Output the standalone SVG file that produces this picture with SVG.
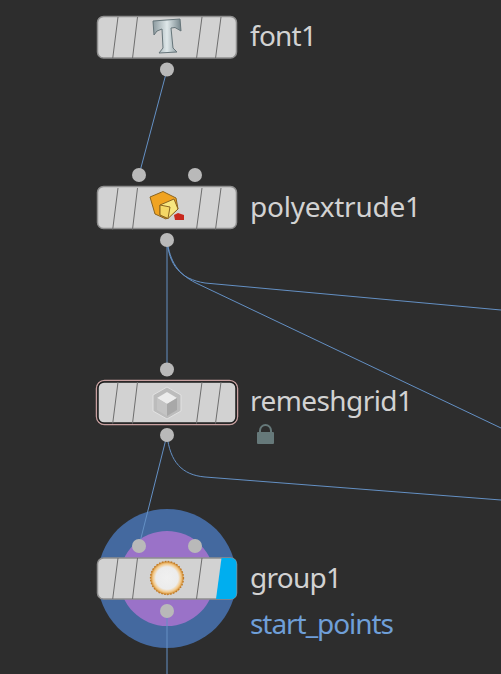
<svg xmlns="http://www.w3.org/2000/svg" width="501" height="674" viewBox="0 0 501 674">
<defs>
<style>
.body{fill:#d2d2d2;stroke:#8e8e8e;stroke-width:1.5}
.st{stroke:#6e6e6e;stroke-width:1;fill:none}
.dot{fill:#b9b9b9}
.lb{font-family:"Noto Sans","Open Sans",sans-serif;font-size:28px;fill:#d2d2d2}
.c{fill:none;stroke:#6490c4;stroke-width:1}
</style>
<g id="stripes">
<path class="st" d="M112.700 0.500L118 -41M132.500 0.500L137.500 -41M196.500 0.500L202 -41M215.500 0.500L221 -41"/>
</g>
<linearGradient id="tg" x1="0" x2="1" y1="0" y2="0"><stop offset="0" stop-color="#8c9a9f"/><stop offset=".5" stop-color="#dfe8ea"/><stop offset="1" stop-color="#74848a"/></linearGradient>
<radialGradient id="rg"><stop offset="0" stop-color="#f0f0f0"/><stop offset=".68" stop-color="#ececec"/><stop offset=".85" stop-color="#f3c98a"/><stop offset="1" stop-color="#d08a2c"/></radialGradient>
</defs>
<rect width="501" height="674" fill="#2d2d2d"/>
<g id="group1-halo">
<circle cx="167" cy="578.500" r="69.500" fill="#44699f"/>
<circle cx="167" cy="578.500" r="47.500" fill="#9a72c8"/>
</g>
<g id="connectors">
<path class="c" d="M167 70L139 175"/>
<path class="c" d="M167 240V370"/>
<path class="c" d="M167 240C169 265 180 279 205 283L501 310"/>
<path class="c" d="M167 240C170 262 178 274 196 283L501 428"/>
<path class="c" d="M167 435L139 546"/>
<path class="c" d="M167 435C170 462 182 475 205 477L501 500"/>
<path class="c" d="M167 611V674"/>
</g>
<g id="font1">
<rect class="body" x="97.500" y="16.500" width="139" height="41.500" rx="6"/>
<use href="#stripes" y="58"/>
<path d="M153 21L180 19L181 31L175 27.500L171 28L173 48L177 52L159 53L163 48L162 29L157 31L154 35Z" fill="url(#tg)" stroke="#66757a" stroke-width="1"/>
<circle class="dot" cx="167" cy="69.500" r="7"/>
<text class="lb" x="250" y="46" textLength="67">font1</text>
</g>
<g id="polyextrude1">
<rect class="body" x="97.500" y="186.500" width="139" height="42" rx="6"/>
<use href="#stripes" y="229"/>
<path d="M150 197L163 191.500L176 198L178 209L166 219L155 214Z" fill="#f0a321" stroke="#8a6420" stroke-width="1"/>
<path d="M160 205L174 199L178 209L168 218.500L160 215Z" fill="#f7e680" stroke="#8a6420" stroke-width="1"/>
<path d="M160 205V215L168 218.500L170 207Z" fill="#f4d766" stroke="#8a6420" stroke-width="1"/>
<path d="M174 215L178 213L184 215V220H175Z" fill="#c8281e"/>
<circle class="dot" cx="139" cy="175" r="7"/>
<circle class="dot" cx="195" cy="175" r="7"/>
<circle class="dot" cx="167" cy="240" r="7"/>
<text class="lb" x="250" y="217" textLength="171">polyextrude1</text>
</g>
<g id="remeshgrid1">
<rect x="96.500" y="380.500" width="141" height="44" rx="8" fill="none" stroke="#c8a0a0" stroke-width="1.500"/>
<rect x="98" y="382" width="138" height="41" rx="6" fill="#d2d2d2" stroke="#1e1e1e" stroke-width="1.500"/>
<use href="#stripes" y="423"/>
<path d="M167 387L181 395V411L167 419L153 411V395Z" fill="#bcbcbc" stroke="#e2e2e2" stroke-width="1"/>
<path d="M167 392L177 398L167 404L157 398Z" fill="#ececec"/>
<path d="M157 398L167 404V416L157 410Z" fill="#c4c4c4"/>
<path d="M177 398L167 404V416L177 410Z" fill="#a8a8a8"/>
<circle class="dot" cx="167" cy="369.500" r="7"/>
<circle class="dot" cx="167" cy="435" r="7"/>
<text class="lb" x="250" y="411" textLength="163">remeshgrid1</text>
<path d="M260 432V430.500a5.500 5.500 0 0 1 11 0V432" fill="none" stroke="#66797a" stroke-width="2"/>
<rect x="257" y="432" width="17" height="12" rx="1" fill="#66797a"/>
</g>
<g id="group1">
<rect class="body" x="97.500" y="558" width="139" height="41" rx="6"/>
<path d="M221.500 558H231a5.500 5.500 0 0 1 5.500 5.500V593.500a5.500 5.500 0 0 1-5.500 5.500H216Z" fill="#00aeef"/>
<path class="st" d="M112.700 599L118 558M132.500 599L137.500 558M196.500 599L202 558"/>
<circle cx="167" cy="578" r="16.500" fill="url(#rg)" stroke="#c07a28" stroke-width="1.300" stroke-dasharray="1.600 1.400"/>
<circle class="dot" cx="139" cy="546" r="7"/>
<circle class="dot" cx="195" cy="546" r="7"/>
<circle class="dot" cx="167" cy="611" r="7"/>
<text class="lb" x="250" y="588" textLength="92">group1</text>
<text class="lb" x="250" y="634" textLength="144" style="fill:#6f9fd8">start_points</text>
</g>
</svg>
